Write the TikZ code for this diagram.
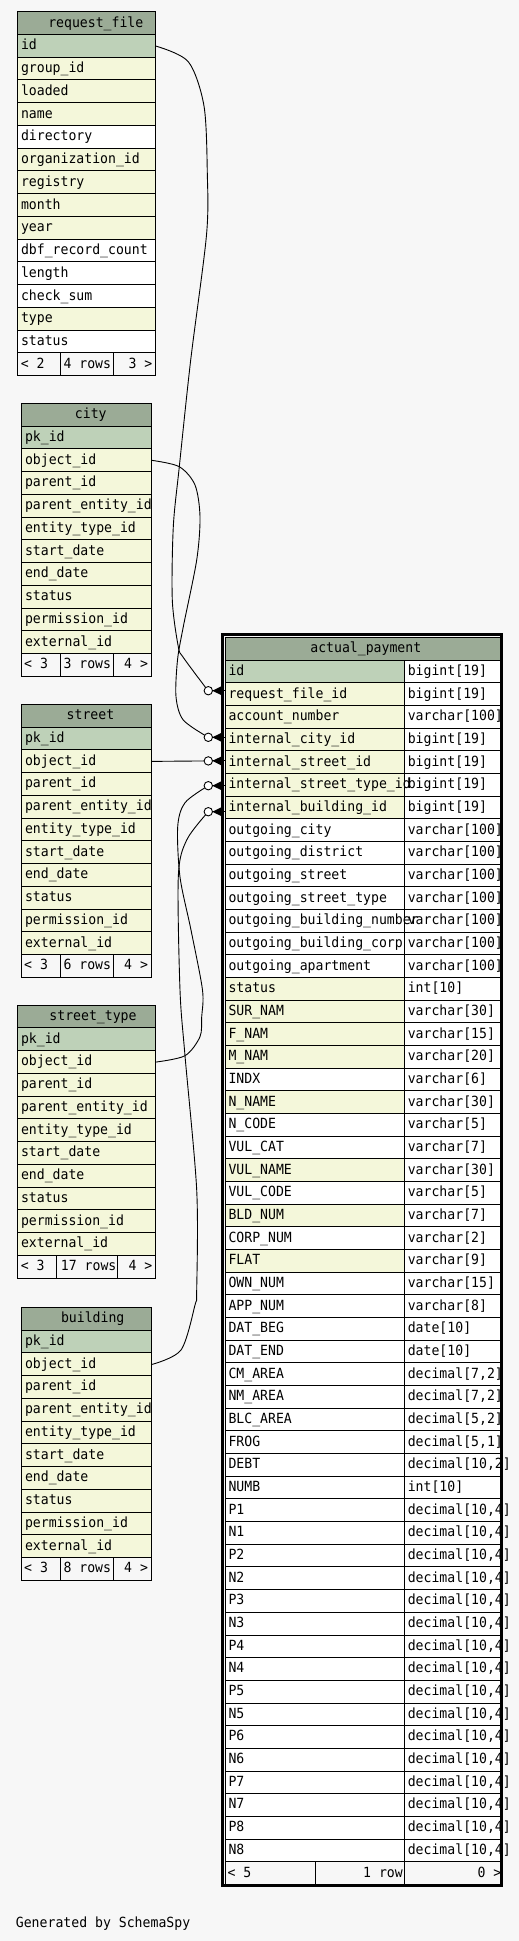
\documentclass[tikz,border=0pt]{standalone}
\usepackage{fontspec}
\newfontfamily\dbfont[FakeStretch=0.94]{DejaVu Sans Mono}
\definecolor{hdrc}{HTML}{9BAB96}
\definecolor{pkc}{HTML}{BED1B8}
\definecolor{ixc}{HTML}{F4F7DA}
\definecolor{bgc}{HTML}{F7F7F7}
\def\RH{22.75}
\def\BL{15.3}
% small table: #1 id, #2 xl, #3 xr, #4 yt, #5 title, #6 title cx, #7 rows macro, #8 footer x/text, #9 footer dividers
\newcommand\smalltab[9]{%
  \foreach \tx/\cl [count=\i] in #7 {%
    \fill[fill=\cl] (#2,{#4+\i*\RH}) rectangle (#3,{#4+(\i+1)*\RH});
    \node[rowbox,minimum width={(#3-#2)*1pt}] (#1-r\i) at (#2,{#4+\i*\RH}) {};
    \xdef\nrows{\i}%
  }%
  \pgfmathtruncatemacro\nlast{\nrows+1}%
  \fill[hdrc] (#2,#4) rectangle (#3,{#4+\RH});
  \fill[bgc] (#2,{#4+\nlast*\RH}) rectangle (#3,{#4+(\nlast+1)*\RH});
  \foreach \k in {1,...,\nlast} {\draw[grid] (#2,{#4+\k*\RH}) -- (#3,{#4+\k*\RH});}
  \foreach \d in {#9} {\draw[grid] (\d,{#4+\nlast*\RH}) -- (\d,{#4+(\nlast+1)*\RH});}
  \node[htxt] (#1-title) at (#6,{#4+\BL}) {#5};
  \begin{scope}
    \clip (#2,#4) rectangle (#3,{#4+(\nlast+1)*\RH});
    \foreach \tx/\cl [count=\i] in #7 {\node[txt] (#1-t\i) at ({#2+3.5},{#4+\i*\RH+\BL}) {\tx};}
  \end{scope}
  \foreach \fx/\ft [count=\j] in {#8} {\node[txt] (#1-f\j) at (\fx,{#4+\nlast*\RH+\BL}) {\ft};}
  \draw[grid] (#2,#4) rectangle (#3,{#4+(\nlast+1)*\RH});
}
\def\rfrows{id/pkc, group\_id/ixc, loaded/ixc, name/ixc, directory/white, organization\_id/ixc, registry/ixc, month/ixc, year/ixc, dbf\_record\_count/white, length/white, check\_sum/white, type/ixc, status/white}
\def\geo{pk\_id/pkc, object\_id/ixc, parent\_id/ixc, parent\_entity\_id/ixc, entity\_type\_id/ixc, start\_date/ixc, end\_date/ixc, status/ixc, permission\_id/ixc, external\_id/ixc}
\def\aprows{id/bigint[19]/pkc, request\_file\_id/bigint[19]/ixc, account\_number/varchar[100]/ixc,
 internal\_city\_id/bigint[19]/ixc, internal\_street\_id/bigint[19]/ixc, internal\_street\_type\_id/bigint[19]/ixc,
 internal\_building\_id/bigint[19]/ixc, outgoing\_city/varchar[100]/white, outgoing\_district/varchar[100]/white,
 outgoing\_street/varchar[100]/white, outgoing\_street\_type/varchar[100]/white, outgoing\_building\_number/varchar[100]/white,
 outgoing\_building\_corp/varchar[100]/white, outgoing\_apartment/varchar[100]/white, status/int[10]/ixc,
 SUR\_NAM/varchar[30]/ixc, F\_NAM/varchar[15]/ixc, M\_NAM/varchar[20]/ixc, INDX/varchar[6]/white,
 N\_NAME/varchar[30]/ixc, N\_CODE/varchar[5]/white, VUL\_CAT/varchar[7]/white, VUL\_NAME/varchar[30]/ixc,
 VUL\_CODE/varchar[5]/white, BLD\_NUM/varchar[7]/ixc, CORP\_NUM/varchar[2]/white, FLAT/varchar[9]/ixc,
 OWN\_NUM/varchar[15]/white, APP\_NUM/varchar[8]/white, DAT\_BEG/date[10]/white, DAT\_END/date[10]/white,
 CM\_AREA/{decimal[7,2]}/white, NM\_AREA/{decimal[7,2]}/white, BLC\_AREA/{decimal[5,2]}/white,
 FROG/{decimal[5,1]}/white, DEBT/{decimal[10,2]}/white, NUMB/int[10]/white,
 P1/{decimal[10,4]}/white, N1/{decimal[10,4]}/white, P2/{decimal[10,4]}/white, N2/{decimal[10,4]}/white,
 P3/{decimal[10,4]}/white, N3/{decimal[10,4]}/white, P4/{decimal[10,4]}/white, N4/{decimal[10,4]}/white,
 P5/{decimal[10,4]}/white, N5/{decimal[10,4]}/white, P6/{decimal[10,4]}/white, N6/{decimal[10,4]}/white,
 P7/{decimal[10,4]}/white, N7/{decimal[10,4]}/white, P8/{decimal[10,4]}/white, N8/{decimal[10,4]}/white}
\def\ARH{22.67}\def\AT{637.5}\def\AL{225}\def\AR{500}\def\AM{404.3}
\newcommand\fkend[1]{%
  \draw[edge] (apc#1) -- (apc#1 -| ap-r#1.west);
  \fill ([xshift=4pt]apc#1) -- ([xshift=13.2pt,yshift=4.5pt]apc#1) -- ([xshift=13.2pt,yshift=-4.5pt]apc#1) -- cycle;
  \draw[edge,fill=white] (apc#1) circle (4.2pt);
}
\begin{document}
\begin{tikzpicture}[x=1pt,y=-1pt,
  font=\dbfont\fontsize{14pt}{14pt}\selectfont,
  grid/.style={draw=black,line width=1pt},
  edge/.style={draw=black,line width=0.9pt},
  txt/.style={anchor=base west,inner sep=0pt},
  htxt/.style={anchor=base,inner sep=0pt},
  rowbox/.style={rectangle,draw=none,inner sep=0pt,anchor=north west,minimum height=22.75pt},
  frame/.style={draw=black,line width=2.7pt}]
\fill[bgc] (0,0) rectangle (519,1941);
\useasboundingbox (0,0) rectangle (519,1941);

\smalltab{rf}{17.3}{155.3}{11.7}{request\_file}{95.8}{\rfrows}%
 {20.7/{< 2}, 63.3/{4 rows}, 128.3/{3 >}}{60.3,113.3}
\smalltab{city}{21.3}{151.7}{403.3}{city}{90.8}{\geo}%
 {24/{< 3}, 63.3/{3 rows}, 124/{4 >}}{60.3,113.7}
\smalltab{street}{21.3}{151.7}{704.3}{street}{90.5}{\geo}%
 {24/{< 3}, 63.3/{6 rows}, 124/{4 >}}{60.3,113.7}
\smalltab{stype}{17.3}{155.3}{1005}{street\_type}{93}{\geo}%
 {20.7/{< 3}, 60.7/{17 rows}, 128.3/{4 >}}{56.7,117.3}
\smalltab{bldg}{21.3}{151.7}{1307.3}{building}{92.7}{\geo}%
 {24/{< 3}, 63.3/{8 rows}, 124/{4 >}}{60.3,113.7}

% actual_payment
\foreach \tx/\ty/\cl [count=\i] in \aprows {%
  \fill[fill=\cl] (\AL,{\AT+\i*\ARH}) rectangle (\AM,{\AT+(\i+1)*\ARH});
  \fill[white] (\AM,{\AT+\i*\ARH}) rectangle (\AR,{\AT+(\i+1)*\ARH});
  \node[rowbox,minimum height=22.67pt,minimum width=179.3pt] (ap-r\i) at (\AL,{\AT+\i*\ARH}) {};
}
\fill[hdrc] (\AL,\AT) rectangle (\AR,{\AT+\ARH});
\fill[bgc] (\AL,{\AT+54*\ARH}) rectangle (\AR,{\AT+55*\ARH});
\foreach \k in {1,...,54} {\draw[grid] (\AL,{\AT+\k*\ARH}) -- (\AR,{\AT+\k*\ARH});}
\draw[grid] (\AM,{\AT+\ARH}) -- (\AM,{\AT+55*\ARH});
\draw[grid] (315.3,{\AT+54*\ARH}) -- (315.3,{\AT+55*\ARH});
\draw[grid] (\AL,\AT) rectangle (\AR,{\AT+55*\ARH});
\node[htxt] (ap-title) at (365.8,{\AT+\BL}) {actual\_payment};
\foreach \tx/\ty/\cl [count=\i] in \aprows {%
  \node[txt] (ap-n\i) at ({\AL+3.3},{\AT+\i*\ARH+\BL}) {\tx};
  \node[txt] (ap-y\i) at ({\AM+3.3},{\AT+\i*\ARH+\BL}) {\ty};
}
\node[txt] (ap-f1) at (227.3,{\AT+54*\ARH+\BL}) {< 5};
\node[txt] (ap-f2) at (363,{\AT+54*\ARH+\BL}) {1 row};
\node[txt] (ap-f3) at (477.3,{\AT+54*\ARH+\BL}) {0 >};
\draw[frame] (222.3,634.8) rectangle (501.8,1885.8);

% connector ends
\coordinate (apc2) at (208.3,690.7);
\coordinate (apc4) at (208.3,737.3);
\coordinate (apc5) at (208.3,760.9);
\coordinate (apc6) at (208.3,785.7);
\coordinate (apc7) at (208.3,811.7);

\draw[edge] plot[smooth,tension=0.5] coordinates {(rf-r1.east) (188.3,61.7) (204,106) (207.3,173) (206.5,235) (190.7,360) (179.3,466.7) (173.3,526.7) (172.3,600) (178.3,646.7) (183,657) (205,686.7) (apc2)};
\draw[edge] plot[smooth,tension=0.5] coordinates {(city-r2.east) (179.3,466.7) (195,485) (200,516.7) (196.7,560) (183.3,626.7) (177.5,660) (176,696.7) (183.3,720) (apc4)};
\draw[edge] (street-r2.east) -- (apc5);
\draw[edge] plot[smooth,tension=0.5] coordinates {(stype-r2.east) (185,1055.7) (200,1036.7) (201.7,1016.7) (202.5,990) (191,930) (180,877) (177.7,826.7) (185,802.7) (apc6)};
\draw[edge] plot[smooth,tension=0.5] coordinates {(bldg-r2.east) (181,1350) (195,1305) (196.7,1290) (196.7,1190) (185,1055.7) (180,990) (178.3,876.7) (186.7,840) (apc7)};
\fkend{2}\fkend{4}\fkend{5}\fkend{6}\fkend{7}

\node[txt] (gen) at (15.7,1927.7) {Generated by SchemaSpy};
\end{tikzpicture}
\end{document}
